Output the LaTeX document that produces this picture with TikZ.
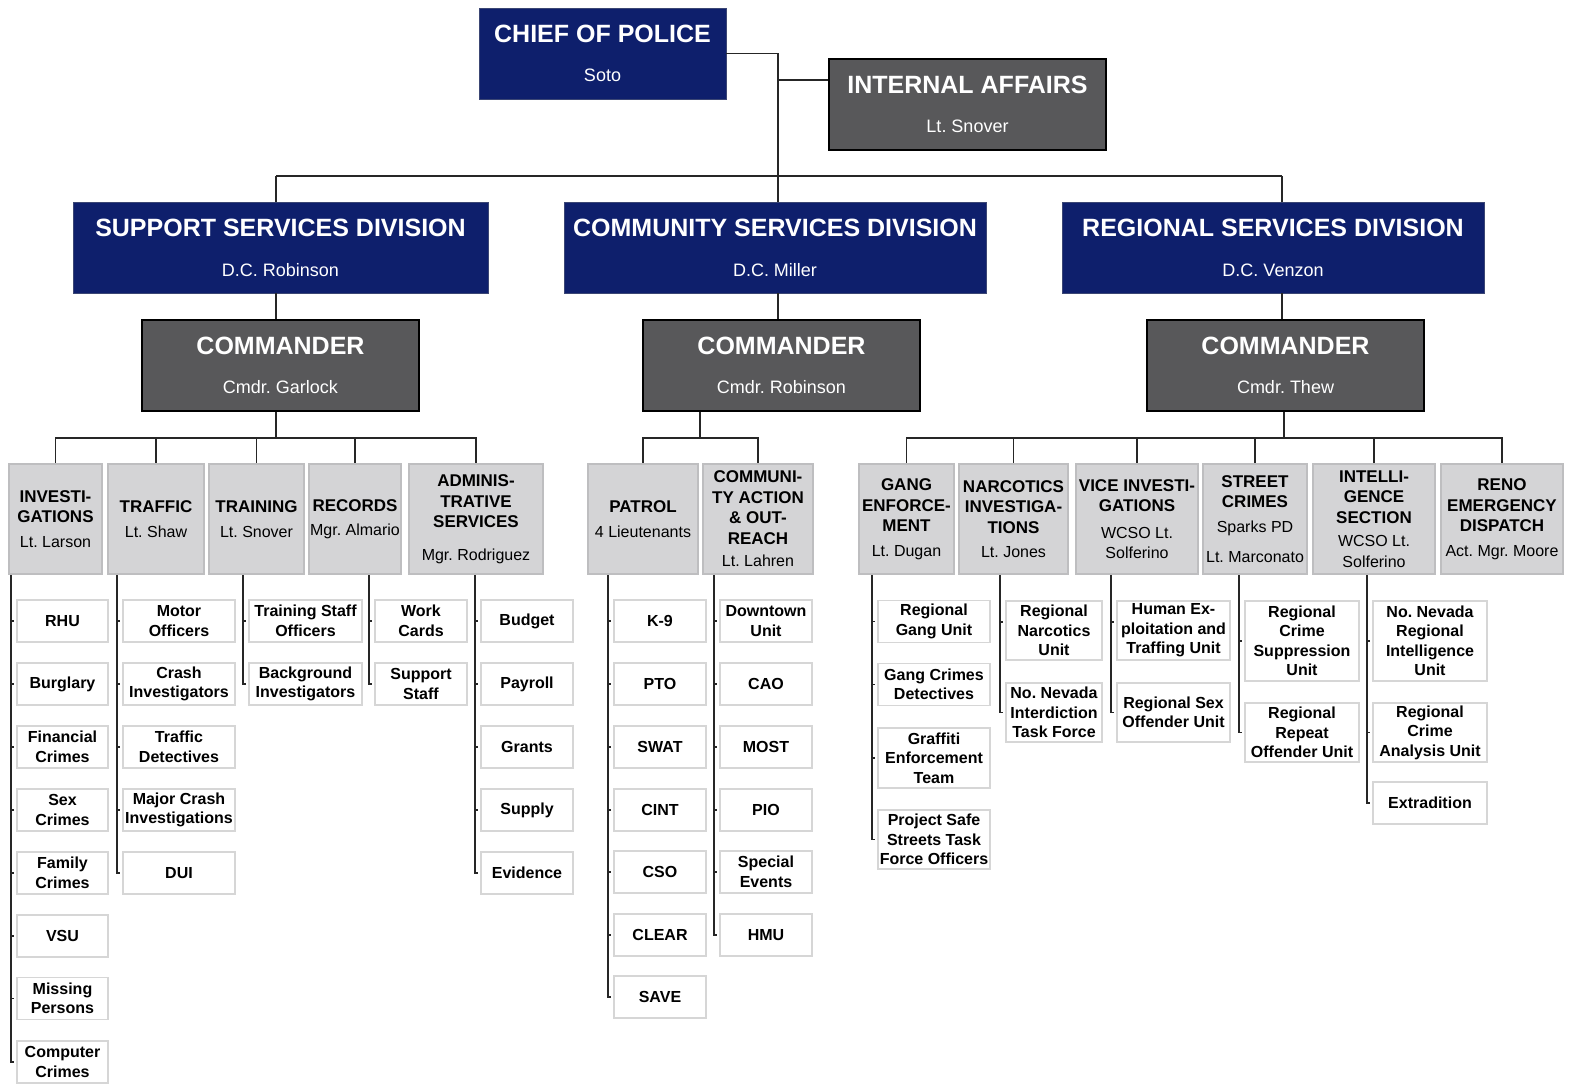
\documentclass[tikz,border=0pt]{standalone}
\usepackage{fontspec}
\setmainfont{Liberation Sans}
\frenchspacing
\definecolor{policenavy}{RGB}{14,31,108}
\definecolor{cmdgray}{RGB}{88,88,90}
\definecolor{unitgray}{RGB}{212,212,214}
\definecolor{unitedge}{RGB}{190,190,192}
\definecolor{leafedge}{RGB}{214,214,214}
\newcommand{\headtitle}[1]{{\fontsize{25}{30}\selectfont\bfseries #1}}
\newcommand{\unittitle}[1]{{\fontsize{17}{21}\selectfont\bfseries #1}}

\begin{document}
\begin{tikzpicture}[x=1pt,y=-1pt,
	every node/.style={align=center,inner sep=1pt},
	navybox/.style={fill=policenavy,draw=policenavy!60!gray,line width=0.8pt,text=white,minimum width=#1pt,minimum height=91pt,font=\fontsize{18}{22}\selectfont},
	cmdbox/.style={fill=cmdgray,draw=black,line width=1.2pt,text=white,minimum width=277pt,minimum height=91pt,font=\fontsize{18}{22}\selectfont},
	unitbox/.style={fill=unitgray,draw=unitedge,line width=2.5pt,minimum width=#1pt,minimum height=110pt,font=\fontsize{16}{20.5}\selectfont},
	leafbox/.style={fill=white,draw=leafedge,line width=1.6pt,minimum width=#1pt,minimum height=42pt,font=\bfseries\fontsize{16}{19.5}\selectfont},
	link/.style={draw=black!85,line width=1.3pt}]

	\useasboundingbox (0,0) rectangle (1570,1086);

	% top of the chart
	\node[navybox=247] (chief) at (602.5,53.5) {\headtitle{CHIEF OF POLICE}\\[17pt]Soto};
	\node[cmdbox] (ia) at (967.5,104.5) {\headtitle{INTERNAL AFFAIRS}\\[17pt]Lt. Snover};

	\node[navybox=415] (supdiv) at (280.5,247.5) {\headtitle{SUPPORT SERVICES DIVISION}\\[18pt]D.C. Robinson};
	\node[navybox=422] (comdiv) at (775,247.5) {\headtitle{COMMUNITY SERVICES DIVISION}\\[18pt]D.C. Miller};
	\node[navybox=422] (regdiv) at (1273,247.5) {\headtitle{REGIONAL SERVICES DIVISION}\\[18pt]D.C. Venzon};

	\node[cmdbox] (cmdsup) at (280.5,365.5) {\headtitle{COMMANDER}\\[17pt]Cmdr. Garlock};
	\node[cmdbox] (cmdcom) at (781.5,365.5) {\headtitle{COMMANDER}\\[17pt]Cmdr. Robinson};
	\node[cmdbox] (cmdreg) at (1285.5,365.5) {\headtitle{COMMANDER}\\[17pt]Cmdr. Thew};

	\coordinate (trunk) at (778,176);
	\coordinate (tleft) at (276,176);
	\coordinate (tright) at (1282,176);
	\coordinate (iain) at ([yshift=24.5pt]ia.west);

	\draw[link] (chief.east) -| (trunk);
	\draw[link] (iain) -- (iain -| trunk);
	\draw[link] (tleft) -- (tright);
	\draw[link] (tleft) -- (tleft |- supdiv.north);
	\draw[link] (trunk) -- (trunk |- comdiv.north);
	\draw[link] (tright) -- (tright |- regdiv.north);
	\draw[link] (tleft |- supdiv.south) -- (tleft |- cmdsup.north);
	\draw[link] (trunk |- comdiv.south) -- (trunk |- cmdcom.north);
	\draw[link] (tright |- regdiv.south) -- (tright |- cmdreg.north);

	% sections
	\node[unitbox=93] (inv) at (55.5,519) {\unittitle{INVESTI-}\\\unittitle{GATIONS}\\[4pt]Lt. Larson};
	\node[unitbox=96] (traffic) at (156,519) {\unittitle{TRAFFIC}\\[4pt]Lt. Shaw};
	\node[unitbox=95] (training) at (256.5,519) {\unittitle{TRAINING}\\[4pt]Lt. Snover};
	\node[unitbox=92] (records) at (355,519) {\unittitle{RECORDS}\\[4pt]Mgr. Almario};
	\node[unitbox=134] (admin) at (476,519) {\unittitle{ADMINIS-}\\\unittitle{TRATIVE}\\\unittitle{SERVICES}\\[12pt]Mgr. Rodriguez};

	\node[unitbox=110] (patrol) at (643,519) {\unittitle{PATROL}\\[4pt]4 Lieutenants};
	\node[unitbox=110] (action) at (758,519) {\unittitle{COMMUNI-}\\\unittitle{TY ACTION}\\\unittitle{\& OUT-}\\\unittitle{REACH}\\[2pt]Lt. Lahren};

	\node[unitbox=95] (gang) at (906.5,519) {\unittitle{GANG}\\\unittitle{ENFORCE-}\\\unittitle{MENT}\\[4pt]Lt. Dugan};
	\node[unitbox=109] (narc) at (1013.5,519) {\unittitle{NARCOTICS}\\\unittitle{INVESTIGA-}\\\unittitle{TIONS}\\[4pt]Lt. Jones};
	\node[unitbox=122] (vice) at (1137,519) {\unittitle{VICE INVESTI-}\\\unittitle{GATIONS}\\[6pt]WCSO Lt.\\Solferino};
	\node[unitbox=104] (street) at (1255,519) {\unittitle{STREET}\\\unittitle{CRIMES}\\[4pt]Sparks PD\\[10pt]Lt. Marconato};
	\node[unitbox=122] (intel) at (1374,519) {\unittitle{INTELLI-}\\\unittitle{GENCE}\\\unittitle{SECTION}\\[3pt]WCSO Lt.\\Solferino};
	\node[unitbox=122] (reno) at (1502,519) {\unittitle{RENO}\\\unittitle{EMERGENCY}\\\unittitle{DISPATCH}\\[4pt]Act. Mgr. Moore};

	\coordinate (bussup) at (276,438);
	\coordinate (buscom) at (700,438);
	\coordinate (busreg) at (1284,438);

	\draw[link] (bussup |- cmdsup.south) -- (bussup);
	\draw[link] (inv.north) |- (bussup) -| (admin.north);
	\draw[link] (traffic.north) -- (traffic.north |- bussup);
	\draw[link] (training.north) -- (training.north |- bussup);
	\draw[link] (records.north) -- (records.north |- bussup);

	\draw[link] (buscom |- cmdcom.south) -- (buscom);
	\draw[link] (patrol.north) |- (buscom) -| (action.north);

	\draw[link] (busreg |- cmdreg.south) -- (busreg);
	\draw[link] (gang.north) |- (busreg) -| (reno.north);
	\draw[link] (narc.north) -- (narc.north |- busreg);
	\draw[link] (vice.north) -- (vice.north |- busreg);
	\draw[link] (street.north) -- (street.north |- busreg);
	\draw[link] (intel.north) -- (intel.north |- busreg);

	% units
	\node[leafbox=91] (rhu) at (62.5,621) {RHU};
	\node[leafbox=91] (burglary) at (62.5,684) {Burglary};
	\node[leafbox=91] (fincrimes) at (62.5,747) {Financial\\Crimes};
	\node[leafbox=91] (sexcrimes) at (62.5,810) {Sex\\Crimes};
	\node[leafbox=91] (famcrimes) at (62.5,873) {Family\\Crimes};
	\node[leafbox=91] (vsu) at (62.5,936) {VSU};
	\node[leafbox=91] (missing) at (62.5,998.5) {Missing\\Persons};
	\node[leafbox=91] (compcrimes) at (62.5,1062) {Computer\\Crimes};

	\node[leafbox=112] (motor) at (179,621) {Motor\\Officers};
	\node[leafbox=112] (crash) at (179,684) {Crash\\Investigators};
	\node[leafbox=112] (trafdet) at (179,747) {Traffic\\Detectives};
	\node[leafbox=112] (majorcrash) at (179,810) {Major Crash\\Investigations};
	\node[leafbox=112] (dui) at (179,873) {DUI};

	\node[leafbox=113] (trainstaff) at (305.5,621) {Training Staff\\Officers};
	\node[leafbox=113] (background) at (305.5,684) {Background\\Investigators};

	\node[leafbox=92] (workcards) at (421,621) {Work\\Cards};
	\node[leafbox=92] (suppstaff) at (421,684) {Support\\Staff};

	\node[leafbox=92] (budget) at (527,621) {Budget};
	\node[leafbox=92] (payroll) at (527,684) {Payroll};
	\node[leafbox=92] (grants) at (527,747) {Grants};
	\node[leafbox=92] (supply) at (527,810) {Supply};
	\node[leafbox=92] (evidence) at (527,873) {Evidence};

	\node[leafbox=92] (k9) at (660,621) {K-9};
	\node[leafbox=92] (pto) at (660,684) {PTO};
	\node[leafbox=92] (swat) at (660,747) {SWAT};
	\node[leafbox=92] (cint) at (660,810) {CINT};
	\node[leafbox=92] (cso) at (660,872) {CSO};
	\node[leafbox=92] (clear) at (660,935) {CLEAR};
	\node[leafbox=92] (save) at (660,997) {SAVE};

	\node[leafbox=92] (downtown) at (766,621) {Downtown\\Unit};
	\node[leafbox=92] (cao) at (766,684) {CAO};
	\node[leafbox=92] (most) at (766,747) {MOST};
	\node[leafbox=92] (pio) at (766,810) {PIO};
	\node[leafbox=92] (specev) at (766,872) {Special\\Events};
	\node[leafbox=92] (hmu) at (766,935) {HMU};

	\node[leafbox=112] (reggang) at (934,621.5) {Regional\\Gang Unit};
	\node[leafbox=112] (gangdet) at (934,684.5) {Gang Crimes\\Detectives};
	\node[leafbox=112,minimum height=60pt] (graffiti) at (934,758) {Graffiti\\Enforcement\\Team};
	\node[leafbox=112,minimum height=59pt] (safestreets) at (934,839.5) {Project Safe\\Streets Task\\Force Officers};

	\node[leafbox=96,minimum height=59pt] (regnarc) at (1054,630.5) {Regional\\Narcotics\\Unit};
	\node[leafbox=96,minimum height=59pt] (interdict) at (1054,712.5) {No. Nevada\\Interdiction\\Task Force};

	\node[leafbox=113,minimum height=59pt] (humanex) at (1173.5,630.5) {Human Ex-\\ploitation and\\Traffing Unit};
	\node[leafbox=113,minimum height=59pt] (sexoff) at (1173.5,712.5) {Regional Sex\\Offender Unit};

	\node[leafbox=114,minimum height=80pt] (suppress) at (1302,641) {Regional\\Crime\\Suppression\\Unit};
	\node[leafbox=114,minimum height=59pt] (repeatoff) at (1302,732.5) {Regional\\Repeat\\Offender Unit};

	\node[leafbox=114,minimum height=80pt] (nnrii) at (1430,641) {No. Nevada\\Regional\\Intelligence\\Unit};
	\node[leafbox=114,minimum height=59pt] (analysis) at (1430,732.5) {Regional\\Crime\\Analysis Unit};
	\node[leafbox=114] (extradition) at (1430,803) {Extradition};

	\coordinate (invl) at (11,575);
	\coordinate (trafl) at (117,575);
	\coordinate (trainl) at (243,575);
	\coordinate (recl) at (369,575);
	\coordinate (adml) at (475,575);
	\coordinate (patl) at (608,575);
	\coordinate (actl) at (714,575);
	\coordinate (gangl) at (872,575);
	\coordinate (narcl) at (1000,575);
	\coordinate (vicel) at (1111,575);
	\coordinate (streetl) at (1239,575);
	\coordinate (intell) at (1367,575);

	\draw[link] (invl) |- ([xshift=-2pt]compcrimes.west);
	\draw[link] (trafl) |- ([xshift=-2pt]dui.west);
	\draw[link] (trainl) |- ([xshift=-2pt]background.west);
	\draw[link] (recl) |- ([xshift=-2pt]suppstaff.west);
	\draw[link] (adml) |- ([xshift=-2pt]evidence.west);
	\draw[link] (patl) |- ([xshift=-2pt]save.west);
	\draw[link] (actl) |- ([xshift=-2pt]hmu.west);
	\draw[link] (gangl) |- ([xshift=-2pt]safestreets.west);
	\draw[link] (narcl) |- ([xshift=-2pt]interdict.west);
	\draw[link] (vicel) |- ([xshift=-2pt]sexoff.west);
	\draw[link] (streetl) |- ([xshift=-2pt]repeatoff.west);
	\draw[link] (intell) |- ([xshift=-2pt]extradition.west);

	\foreach \leaf in {rhu,burglary,fincrimes,sexcrimes,famcrimes,vsu,missing,
		motor,crash,trafdet,majorcrash,trainstaff,workcards,
		budget,payroll,grants,supply,k9,pto,swat,cint,cso,clear,
		downtown,cao,most,pio,specev,reggang,gangdet,graffiti,suppress,nnrii,analysis}
		\draw[link] ([xshift=-6pt]\leaf.west) -- ([xshift=-2pt]\leaf.west);
	\draw[link] ([xshift=-6pt,yshift=8.5pt]regnarc.west) -- ([xshift=-2pt,yshift=8.5pt]regnarc.west);
	\draw[link] ([xshift=-6pt,yshift=8.5pt]humanex.west) -- ([xshift=-2pt,yshift=8.5pt]humanex.west);

\end{tikzpicture}
\end{document}
